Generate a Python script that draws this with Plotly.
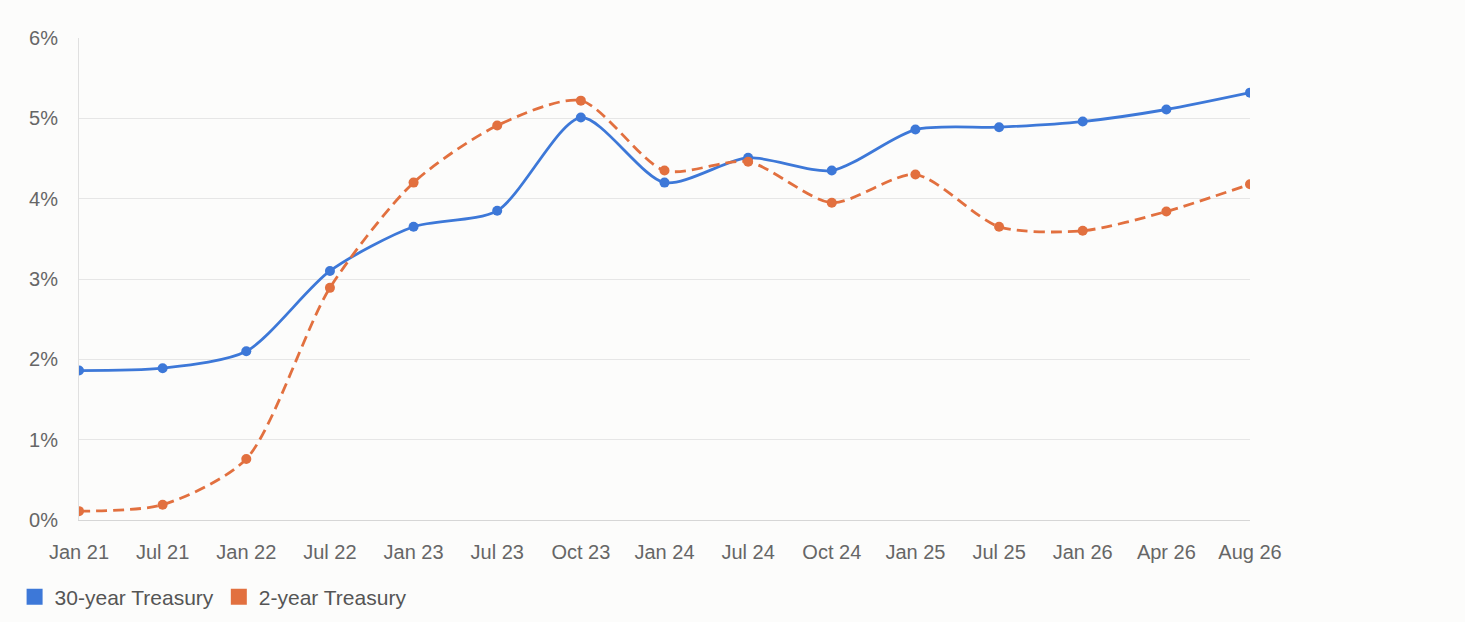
import plotly.graph_objects as go

# x categories (evenly spaced on the chart)
months = ['Jan 21', 'Jul 21', 'Jan 22', 'Jul 22', 'Jan 23', 'Jul 23', 'Oct 23',
          'Jan 24', 'Jul 24', 'Oct 24', 'Jan 25', 'Jul 25', 'Jan 26', 'Apr 26', 'Aug 26']

# yields in percent
yield_30y = [1.86, 1.89, 2.10, 3.10, 3.65, 3.85, 5.01, 4.20, 4.51, 4.35, 4.86, 4.89, 4.96, 5.11, 5.32]
yield_2y = [0.11, 0.19, 0.76, 2.89, 4.20, 4.91, 5.22, 4.35, 4.46, 3.95, 4.30, 3.65, 3.60, 3.84, 4.18]

y_ticks = [0, 1, 2, 3, 4, 5, 6]

BLUE = '#3d78d8'
ORANGE = '#e2703f'
BG = '#fcfcfb'
FONT = 'Liberation Sans, Arial, sans-serif'

fig = go.Figure()

fig.add_trace(go.Scatter(x=months, y=yield_30y, name='30-year Treasury',
                         mode='lines+markers', showlegend=False,
                         line=dict(color=BLUE, width=2.8, shape='spline', smoothing=0.75),
                         marker=dict(color=BLUE, size=10)))
fig.add_trace(go.Scatter(x=months, y=yield_2y, name='2-year Treasury',
                         mode='lines+markers', showlegend=False,
                         line=dict(color=ORANGE, width=2.8, dash='11px,6px', shape='spline', smoothing=0.75),
                         marker=dict(color=ORANGE, size=10)))

# square legend swatches
for name, color in [('30-year Treasury', BLUE), ('2-year Treasury', ORANGE)]:
    fig.add_trace(go.Scatter(x=[None], y=[None], name=name, mode='markers',
                             marker=dict(symbol='square', size=16, color=color)))

fig.update_layout(
    width=1465, height=622,
    margin=dict(l=79, r=215, t=38, b=102, autoexpand=False),
    paper_bgcolor=BG, plot_bgcolor=BG,
    font=dict(family=FONT, size=20, color='#666666'),
    legend=dict(orientation='h', x=-0.055, xanchor='left', y=-0.16, yanchor='middle',
                font=dict(size=21, color='#555555'), itemsizing='trace',
                traceorder='normal', itemwidth=30),
)

fig.update_xaxes(showgrid=False, showline=True, linecolor='#d6d6d6', linewidth=1,
                 ticks='', ticklabelstandoff=14, range=[0, len(months) - 1], automargin=False)
fig.update_yaxes(range=[0, 6], tickvals=y_ticks, ticktext=[f'{v}%' for v in y_ticks],
                 showgrid=True, gridcolor='#e6e6e6', gridwidth=1,
                 showline=True, linecolor='#e0e0e0', zeroline=False,
                 ticklabelstandoff=16, automargin=False)

fig.write_html("out.html", config={'displayModeBar': False},
               post_script=f"document.body.style.margin='0';document.body.style.background='{BG}';")
